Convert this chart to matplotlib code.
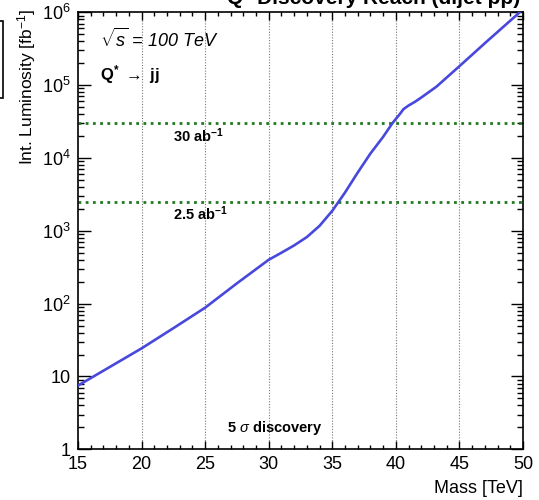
import numpy as np
import matplotlib
matplotlib.use("Agg")
import matplotlib.pyplot as plt
from matplotlib.ticker import MultipleLocator, FixedLocator, FixedFormatter, LogLocator, NullFormatter
from matplotlib.patches import Rectangle

plt.rcParams['font.family'] = ['Liberation Sans', 'DejaVu Sans']
plt.rcParams['mathtext.fontset'] = 'custom'
plt.rcParams['mathtext.rm'] = 'Liberation Sans'
plt.rcParams['mathtext.it'] = 'Liberation Sans:italic'
plt.rcParams['mathtext.bf'] = 'Liberation Sans:bold'

# 5 sigma discovery curve
mass = [15, 17.5, 20, 22.5, 25, 27.5, 30, 31, 32, 33, 34, 35, 36, 37, 38, 39,
        39.74, 40.3, 40.6, 41, 41.5, 42, 43.2, 45, 47.1, 49.6, 50]
lumi = [7.5, 13.5, 24.3, 46, 88, 190, 400, 500, 630, 820, 1170, 1880, 3350, 6300,
        11500, 19500, 30200, 39800, 46800, 52500, 59000, 67600, 95500, 182000,
        390000, 950000, 1.12e6]

# reference luminosities in fb^-1
ref_lumi = [30000, 2500]
ref_labels = [r"30 ab$^{\mathbf{-1}}$", r"2.5 ab$^{\mathbf{-1}}$"]

x_ticks = [15, 20, 25, 30, 35, 40, 45, 50]
y_ticks = [1, 10, 1e2, 1e3, 1e4, 1e5, 1e6]
y_tick_labels = ["1", "10", "$10^2$", "$10^3$", "$10^4$", "$10^5$", "$10^6$"]

fig = plt.figure(figsize=(5.39, 5.00), dpi=100)
ax = fig.add_axes([0.1447, 0.1014, 0.9703 - 0.1447, 0.9754 - 0.1014])

ax.set_yscale('log')
ax.set_xlim(15, 50)
ax.set_ylim(1, 1e6)

# vertical grid
for xv in x_ticks[1:-1]:
    ax.axvline(xv, color='#777777', lw=0.8, ls=(0, (1, 1.5)), zorder=1)

# reference lines
for yv in ref_lumi:
    ax.axhline(yv, color='#1f7a1f', lw=2.0, ls=(0, (1, 1.6)), zorder=2)

ax.plot(mass, lumi, color='#4848dd', lw=1.9, zorder=3, solid_joinstyle='round')

# ticks, ROOT style
ax.xaxis.set_major_locator(FixedLocator(x_ticks))
ax.xaxis.set_minor_locator(MultipleLocator(1))
ax.yaxis.set_major_locator(FixedLocator(y_ticks))
ax.yaxis.set_major_formatter(FixedFormatter(y_tick_labels))
ax.yaxis.set_minor_locator(LogLocator(base=10, subs=np.arange(2, 10), numticks=20))
ax.yaxis.set_minor_formatter(NullFormatter())
ax.tick_params(axis='both', which='both', direction='in', top=True, right=True,
               labelsize=13, width=1.0, colors='black')
ax.tick_params(axis='x', which='major', length=6, pad=5)
ax.tick_params(axis='x', which='minor', length=3)
ax.tick_params(axis='y', which='major', length=9, pad=5)
ax.tick_params(axis='y', which='minor', length=4.5)
for s in ax.spines.values():
    s.set_linewidth(1.2)

# axis titles
fig.text(0.9703, 1 - 493 / 500, "Mass [TeV]", ha='right', va='baseline', fontsize=13)
fig.text(27 / 539, 1 - 9 / 500, r"Int. Luminosity [fb$^{-1}$]", rotation=90,
         ha='center', va='top', fontsize=12.5)

# annotations
ax.text(0.049, 0.921, r"$\sqrt{s}$ = 100 TeV", transform=ax.transAxes,
        fontsize=13, style='italic', va='baseline')
ax.text(0.049, 0.845, r"Q$^{\mathbf{*}}$ $\rightarrow$ jj", transform=ax.transAxes,
        fontsize=12, fontweight='bold', va='baseline')
ax.text(0.213, 0.704, ref_labels[0], transform=ax.transAxes,
        fontsize=10.5, fontweight='bold', va='baseline')
ax.text(0.213, 0.525, ref_labels[1], transform=ax.transAxes,
        fontsize=10.5, fontweight='bold', va='baseline')
ax.text(0.334, 0.039, r"5 $\sigma$ discovery", transform=ax.transAxes,
        fontsize=10.5, fontweight='bold', va='baseline')

# cut-off title and neighbouring legend box at the edges of the crop
fig.text(0.965, 1 - 4 / 500, "Q* Discovery Reach (dijet pp)", ha='right', va='baseline',
         fontsize=15, fontweight='bold')
fig.patches.append(Rectangle((-0.02, 1 - 98 / 500), 0.025, 77 / 500, transform=fig.transFigure,
                             fill=False, edgecolor='black', lw=1.2))

fig.savefig("out.png", dpi=100)
